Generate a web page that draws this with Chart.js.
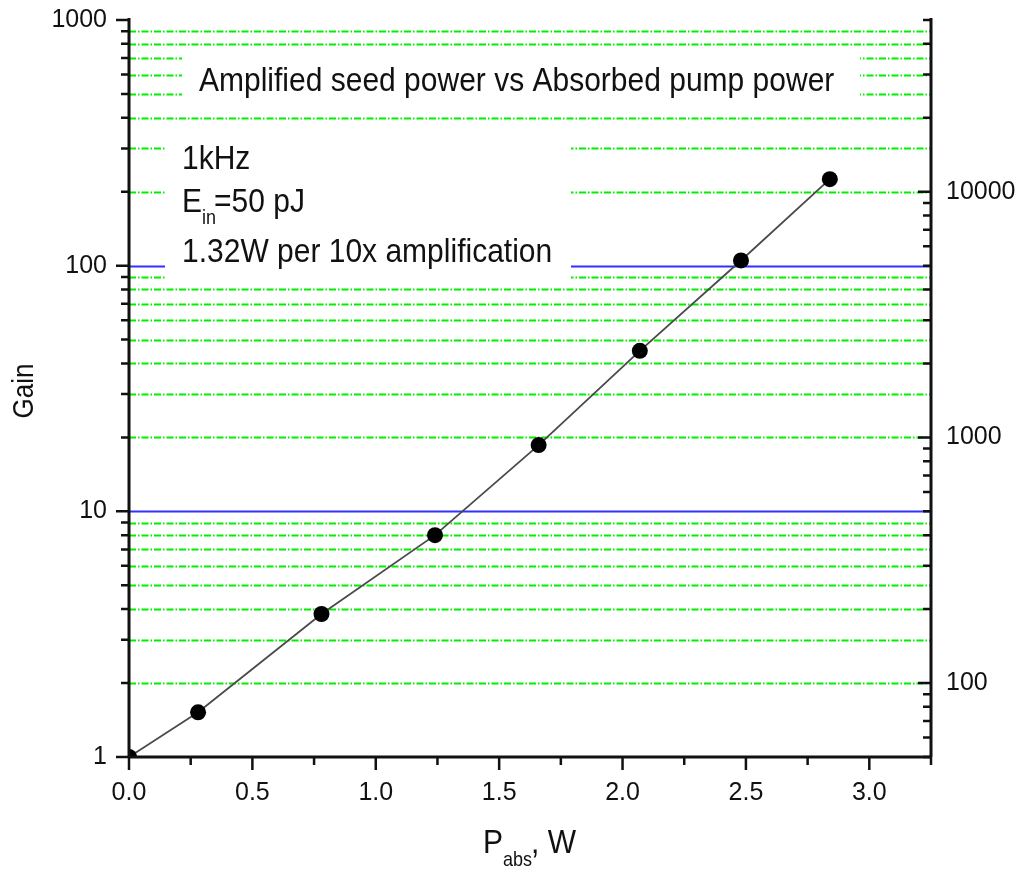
<!DOCTYPE html>
<html>
<head>
<meta charset="utf-8">
<script src="https://cdn.jsdelivr.net/npm/chart.js@4.4.1/dist/chart.umd.min.js"></script>
<style>
  html, body { margin: 0; padding: 0; background: #fff; }
  canvas { display: block; }
</style>
</head>
<body>
<canvas id="gainChart" width="1016" height="869"></canvas>
<script>
// Data
const pumpPower = [0, 0.28, 0.78, 1.24, 1.66, 2.07, 2.48, 2.84];
const gain = [1, 1.52, 3.82, 8.0, 18.6, 45, 105, 225];
const xLabels = [0, 0.5, 1, 1.5, 2, 2.5, 3];
const gainLabels = [1, 10, 100, 1000];
const energyLabels = [100, 1000, 10000];
const inputEnergy = 50; // pJ, right axis = gain * E_in

const FONT = "'Liberation Sans', Arial, sans-serif";
const INK = '#111';

// 1..9 x each decade between lo and hi
function logSteps(lo, hi) {
    const out = [];
    for (let d = 1; d <= hi; d *= 10) {
        for (let m = 1; m < 10; m++) {
            const v = m * d;
            if (v >= lo && v <= hi) out.push(v);
        }
    }
    return out;
}

// the source text is a little taller than it is wide
function text(ctx, str, x, y, size, align) {
    ctx.save();
    ctx.translate(x, y);
    ctx.scale(1, 1.1);
    ctx.font = size + 'px ' + FONT;
    ctx.textAlign = align || 'left';
    ctx.textBaseline = 'alphabetic';
    ctx.fillText(str, 0, 0);
    ctx.restore();
}

const gainPlot = {
    id: 'gainPlot',
    beforeDatasetsDraw(chart) {
        const { ctx, chartArea: a, scales: { y } } = chart;
        ctx.save();
        ctx.beginPath();
        ctx.rect(a.left, a.top, a.right - a.left, a.bottom - a.top);
        ctx.clip();
        y.ticks.forEach(t => {
            const v = t.value;
            if (v <= y.min || v >= y.max) return;
            const py = Math.round(y.getPixelForValue(v)) + 0.5;
            const major = gainLabels.includes(v);
            ctx.strokeStyle = major ? '#3030ff' : '#00f000';
            ctx.lineWidth = 2;
            ctx.setLineDash(major ? [] : [7, 2, 1.5, 2]);
            ctx.beginPath();
            ctx.moveTo(a.left, py);
            ctx.lineTo(a.right, py);
            ctx.stroke();
        });
        // white boxes behind the text blocks
        ctx.fillStyle = '#fff';
        ctx.fillRect(182, 50, 678, 60);
        ctx.fillRect(165, 135, 406, 149);
        ctx.restore();
    },
    afterDraw(chart) {
        const { ctx, chartArea: a, scales: { x, y, y2 } } = chart;
        ctx.save();
        ctx.strokeStyle = INK;
        ctx.setLineDash([]);

        // axis lines
        ctx.lineWidth = 3;
        ctx.beginPath();
        ctx.moveTo(a.left, a.top - 2); ctx.lineTo(a.left, a.bottom);
        ctx.moveTo(a.left, a.bottom); ctx.lineTo(a.right, a.bottom);
        ctx.moveTo(a.right, a.top - 2); ctx.lineTo(a.right, a.bottom);
        ctx.stroke();

        // tick marks
        ctx.lineWidth = 2.5;
        ctx.beginPath();
        y.ticks.forEach(t => {
            const py = y.getPixelForValue(t.value);
            const len = gainLabels.includes(t.value) ? 13 : 8;
            ctx.moveTo(a.left - len, py); ctx.lineTo(a.left, py);
        });
        y2.ticks.forEach(t => {
            const py = y2.getPixelForValue(t.value);
            const len = energyLabels.includes(t.value) ? 13 : 8;
            ctx.moveTo(a.right - len, py); ctx.lineTo(a.right, py);
        });
        x.ticks.forEach(t => {
            const px = x.getPixelForValue(t.value);
            const len = xLabels.includes(t.value) ? 13 : 8;
            ctx.moveTo(px, a.bottom); ctx.lineTo(px, a.bottom + len);
        });
        ctx.stroke();

        // texts
        ctx.fillStyle = INK;
        text(ctx, 'Amplified seed power vs Absorbed pump power', 199, 91, 30);
        text(ctx, '1kHz', 182, 169, 30);
        text(ctx, 'E', 182, 212, 30);
        text(ctx, 'in', 202, 224, 18);
        text(ctx, '=50 pJ', 214, 212, 30);
        text(ctx, '1.32W per 10x amplification', 182, 262, 30);

        // axis titles
        text(ctx, 'P', 483, 853, 30);
        text(ctx, 'abs', 503, 866, 18);
        text(ctx, ', W', 531, 853, 30);

        ctx.save();
        ctx.translate(33, 391);
        ctx.rotate(-Math.PI / 2);
        text(ctx, 'Gain', 0, 0, 26, 'center');
        ctx.restore();

        ctx.restore();
    }
};

const tickFont = { family: FONT, size: 25 };

// pin the plot box: no extra padding from the tick labels
function fixV(width) {
    return s => { s.width = width; s.paddingTop = 0; s.paddingBottom = 0; };
}

new Chart(document.getElementById('gainChart').getContext('2d'), {
    type: 'scatter',
    data: {
        datasets: [{
            label: 'Gain',
            data: pumpPower.map((p, i) => ({ x: p, y: gain[i] })),
            showLine: true,
            borderColor: '#4a4a4a',
            borderWidth: 1.8,
            pointRadius: 8,
            pointHoverRadius: 8,
            pointBackgroundColor: '#000',
            pointBorderWidth: 0,
            clip: 0,
            xAxisID: 'x',
            yAxisID: 'y'
        }]
    },
    options: {
        responsive: false,
        animation: false,
        devicePixelRatio: 1,
        layout: { padding: { top: 20, left: 0, right: 0, bottom: 0 } },
        plugins: {
            legend: { display: false },
            tooltip: { enabled: false }
        },
        scales: {
            x: {
                type: 'linear',
                position: 'bottom',
                min: 0,
                max: 3.25,
                grid: { display: false, drawTicks: false },
                border: { display: false },
                afterBuildTicks: s => {
                    s.ticks = [0, 0.25, 0.5, 0.75, 1, 1.25, 1.5, 1.75, 2, 2.25, 2.5, 2.75, 3, 3.25].map(v => ({ value: v }));
                },
                afterFit: s => { s.height = 112; s.paddingLeft = 0; s.paddingRight = 0; },
                ticks: {
                    autoSkip: false,
                    maxRotation: 0,
                    padding: 21,
                    color: INK,
                    font: tickFont,
                    callback: v => xLabels.includes(v) ? v.toFixed(1) : ''
                }
            },
            y: {
                type: 'logarithmic',
                position: 'left',
                min: 1,
                max: 1000,
                grid: { display: false, drawTicks: false },
                border: { display: false },
                afterBuildTicks: s => { s.ticks = logSteps(1, 1000).map(v => ({ value: v })); },
                afterFit: fixV(129),
                ticks: {
                    autoSkip: false,
                    padding: 22,
                    color: INK,
                    font: tickFont,
                    callback: v => gainLabels.includes(v) ? String(v) : ''
                }
            },
            y2: {
                type: 'logarithmic',
                position: 'right',
                min: 1 * inputEnergy,
                max: 1000 * inputEnergy,
                grid: { display: false, drawTicks: false },
                border: { display: false },
                afterBuildTicks: s => { s.ticks = logSteps(50, 50000).map(v => ({ value: v })); },
                afterFit: fixV(85),
                ticks: {
                    autoSkip: false,
                    padding: 15,
                    color: INK,
                    font: tickFont,
                    callback: v => energyLabels.includes(v) ? String(v) : ''
                }
            }
        }
    },
    plugins: [gainPlot]
});
</script>
</body>
</html>
